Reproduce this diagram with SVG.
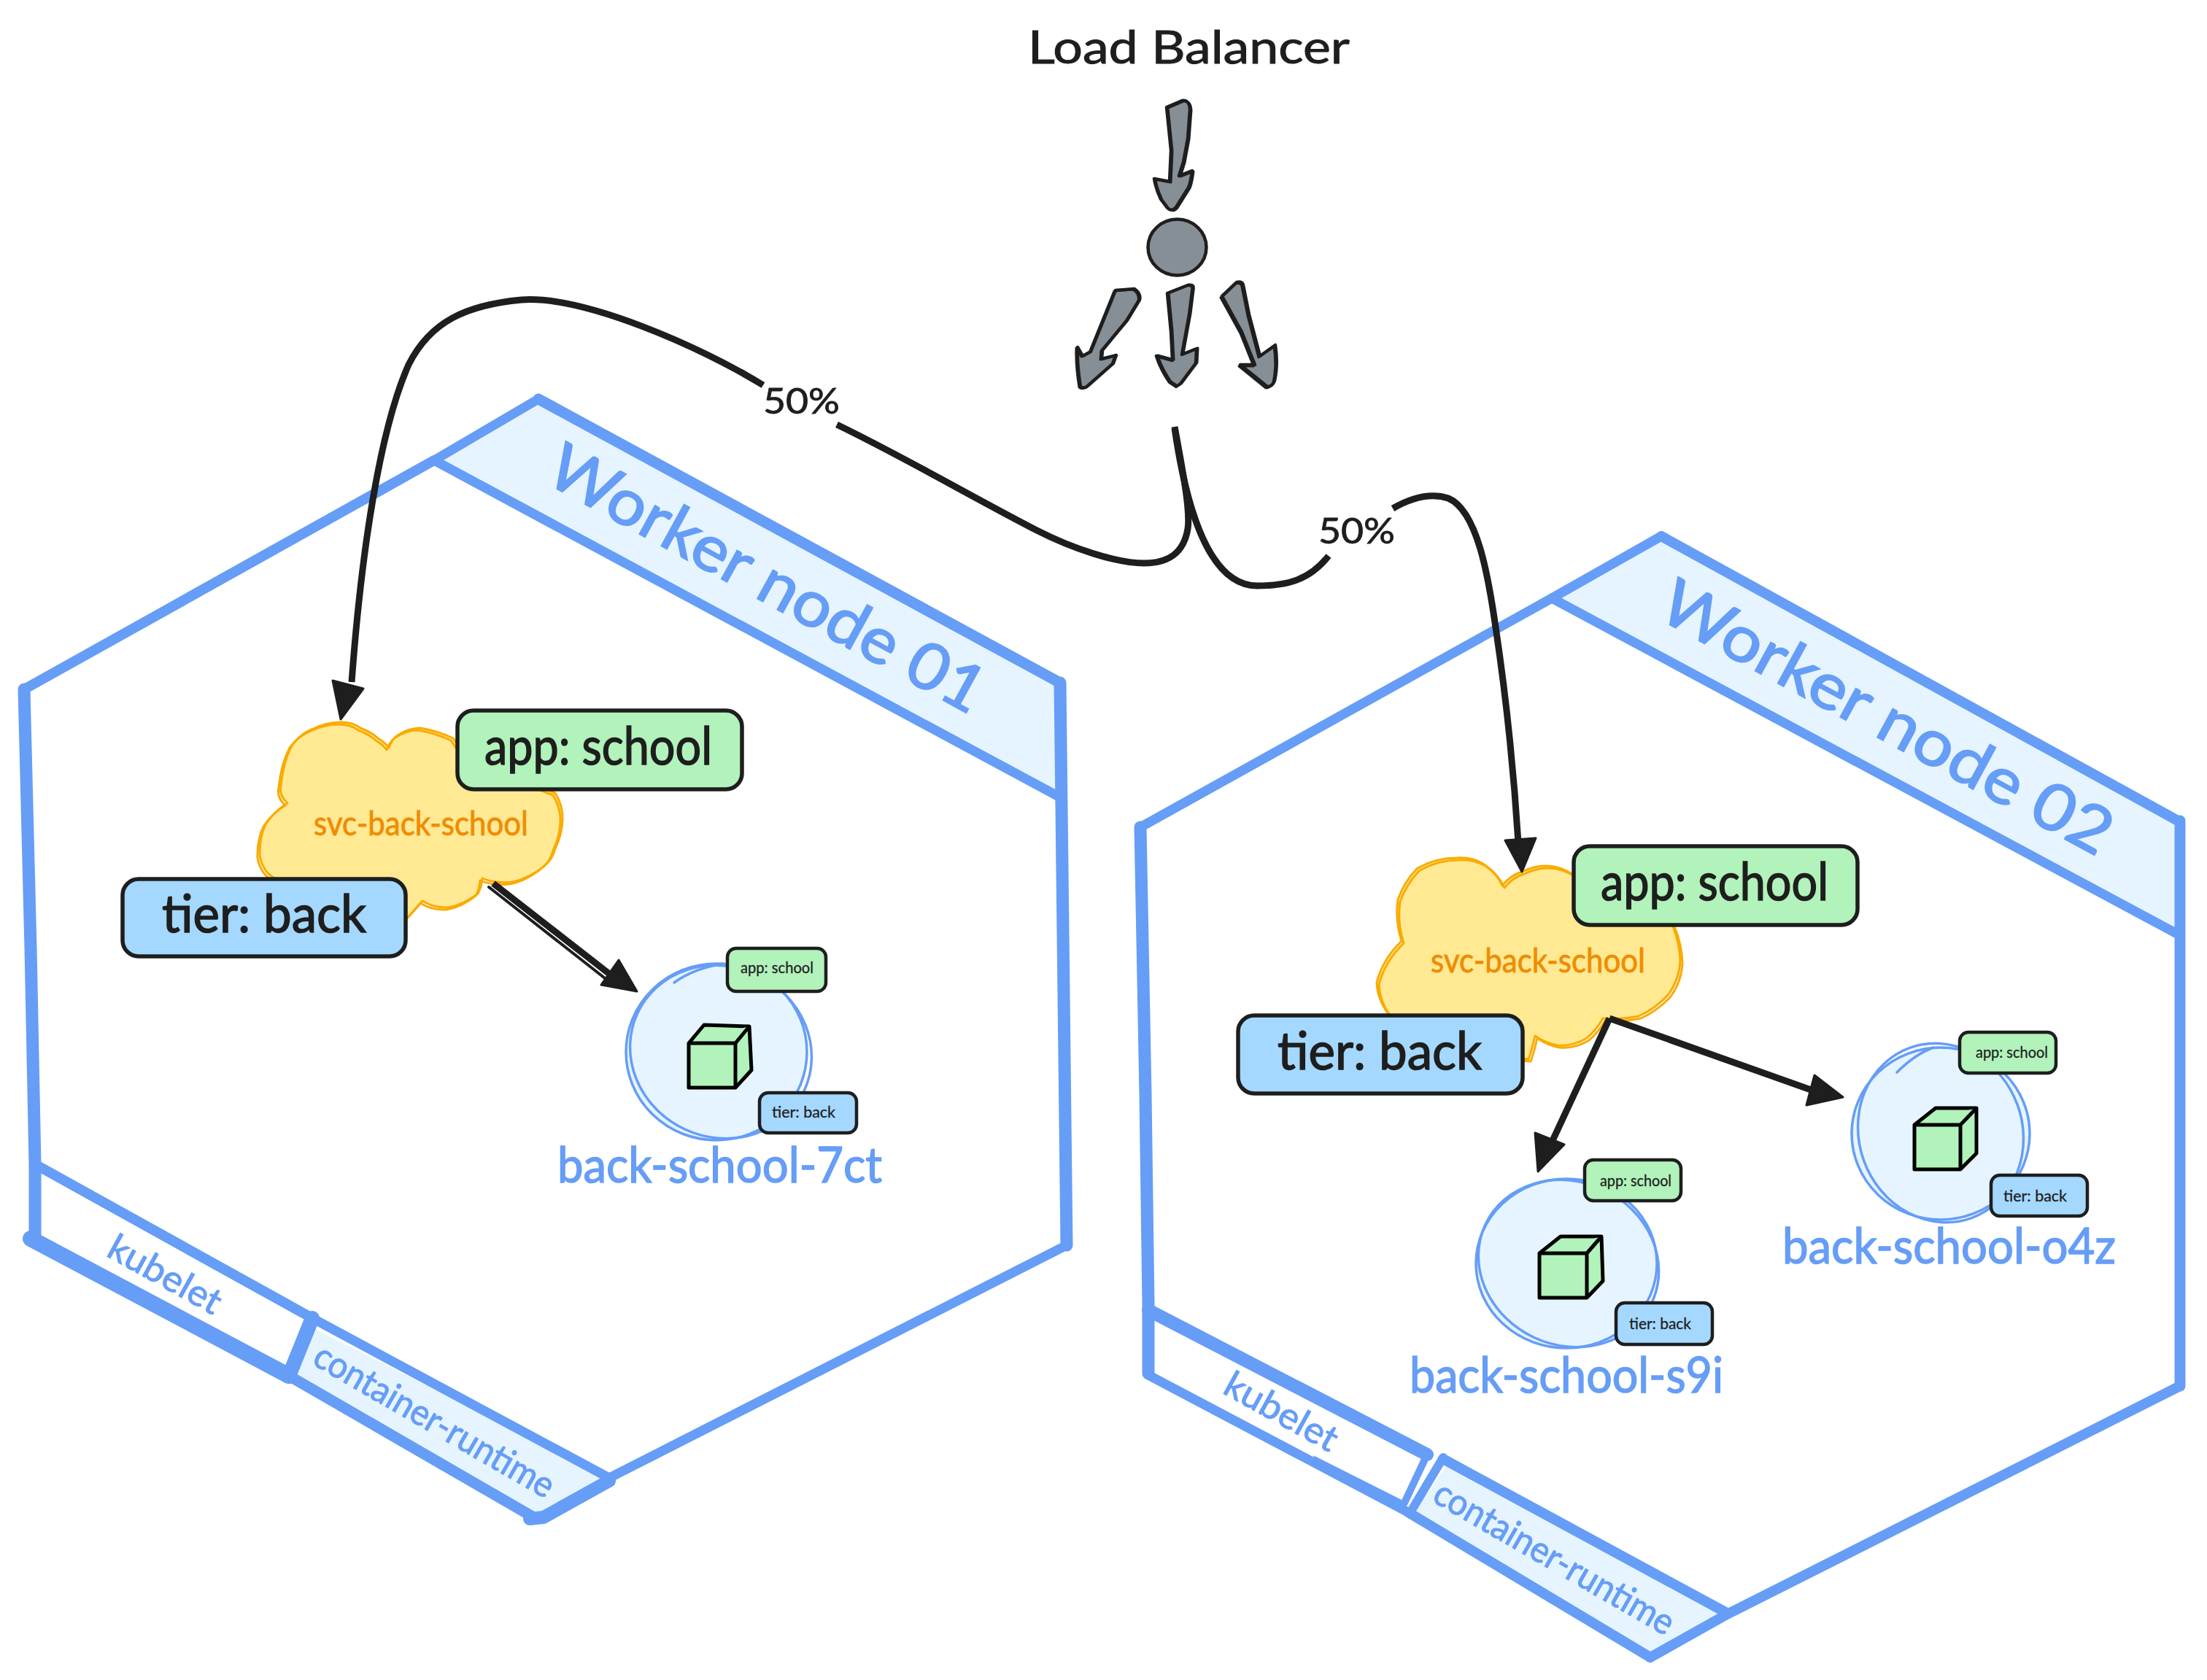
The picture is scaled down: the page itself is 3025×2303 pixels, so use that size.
<svg xmlns="http://www.w3.org/2000/svg" width="3025" height="2303" viewBox="0 0 3025 2303">
<style>
text{font-family:"Lato","Noto Sans",sans-serif;}
.hex{fill:none;stroke:#669df6;stroke-width:13;stroke-linejoin:round;stroke-linecap:round}
.hexb{fill:none;stroke:#669df6;stroke-width:20;stroke-linejoin:round;stroke-linecap:round}
.cloud{fill:#ffe993;stroke:none}
.cl{fill:none;stroke:#f9ab00;stroke-width:3;stroke-linejoin:round}
.lg{fill:#b2f2bb;stroke:#1e1e1e;stroke-width:5.5}
.lb{fill:#a5d8ff;stroke:#1e1e1e;stroke-width:5.5}
.sg{fill:#b2f2bb;stroke:#1e1e1e;stroke-width:4.5}
.sb{fill:#a5d8ff;stroke:#1e1e1e;stroke-width:4.5}
.tk{fill:#1e1e1e;stroke:#1e1e1e}
.big{font-size:72px;stroke-width:1.5}
.sm{font-size:22px;stroke-width:.3}
.pname{font-size:68px;fill:#669df6;stroke:#669df6;stroke-width:1.5}
.svc{font-size:46px;fill:#f08c00;stroke:#f08c00;stroke-width:.8}
.wn{font-size:88px;fill:#669df6;stroke:#669df6;stroke-width:2}
.side{font-size:50px;fill:#669df6;stroke:#669df6;stroke-width:1}
.pod{fill:#e5f4ff;stroke:none}
.pl{fill:none;stroke:#669df6;stroke-width:3.5;stroke-linecap:round}
.cube{fill:#b2f2bb;stroke:#000;stroke-width:5;stroke-linejoin:round}
.la{fill:#868e96;stroke:#1e1e1e;stroke-width:4.5;stroke-linejoin:round}
.lo{fill:none;stroke:#1e1e1e;stroke-width:3;stroke-linejoin:round}
.cn{fill:none;stroke:#1e1e1e;stroke-width:9;stroke-linecap:butt}
.cn2{fill:none;stroke:#1e1e1e;stroke-width:4;stroke-linecap:round}
.hd{fill:#1e1e1e;stroke:#1e1e1e;stroke-width:3;stroke-linejoin:round}
.pct{font-size:48px;fill:#1e1e1e;stroke:#1e1e1e;stroke-width:.8}
</style>
<defs>
<path id="cloud1" d="M467 990Q484 990 494 998Q508 1003 518 1012Q528 1018 533 1025Q538 1012 545 1008Q560 998 576 998Q600 1002 621 1012L640 1040L761 1087Q772 1105 771 1125Q770 1145 761 1163Q757 1178 748 1185Q735 1197 718 1204Q700 1212 682 1209Q670 1208 661 1204Q660 1216 655 1225Q636 1240 615 1244Q595 1245 579 1235Q568 1248 558 1259L420 1240L367 1197Q358 1186 356 1173Q355 1150 364 1130Q376 1112 394 1101Q382 1090 385 1077Q388 1045 400 1022Q412 1006 427 1000Q447 990 467 990Z"/>
<path id="cloud2" d="M1943 1190Q1968 1176 1996 1176Q2020 1174 2037 1187Q2052 1198 2059 1214Q2070 1200 2086 1195Q2105 1186 2121 1187Q2142 1188 2157 1200L2200 1240L2291 1265Q2302 1290 2303 1317Q2302 1342 2287 1363Q2270 1382 2246 1393Q2222 1398 2197 1396Q2188 1412 2175 1423Q2155 1435 2135 1433Q2118 1430 2104 1420Q2100 1438 2095 1452L1960 1440L1903 1390Q1888 1370 1887 1347Q1895 1315 1921 1290Q1912 1262 1916 1233Q1925 1208 1943 1190Z"/>
<path id="arrow-top" d="M1599 147L1620 138Q1630 136 1631 150L1628 190L1622 222L1616 241L1634 234Q1632 250 1629 257L1612 284Q1606 291 1600 285L1591 273Q1584 258 1582 245L1603 249L1605 206Z"/>
<path id="arrow-l" d="M1529 398L1555 396Q1564 402 1562 411L1545 439L1511 480L1510 492L1530 487L1526 498L1492 528Q1486 534 1481 530Q1476 500 1477 476L1484 488L1495 482Z"/>
<path id="arrow-m" d="M1600 402L1628 391Q1636 390 1634 399L1630 431L1620 486L1640 478L1639 498L1618 526L1612 530L1603 524Q1590 505 1585 488L1607 494L1605 455Z"/>
<path id="arrow-r" d="M1675 406L1695 387Q1703 385 1704 391L1712 431L1727 488L1748 473Q1752 500 1747 522Q1744 530 1737 530L1700 500L1720 500L1702 455Z"/>
</defs>

<g id="worker-node-01">
<polygon points="595,631 738,547 1453,932 1453,1093" fill="#e5f4ff"/>
<polygon points="432,1822 835,2026 737,2078 403,1885" fill="#e5f4ff"/>
<path class="hexb" style="stroke-width:14" d="M595 631L33 945"/>
<path class="hexb" style="stroke-width:17" d="M33 945L42 1300L48 1596L48 1696"/>
<path class="hex" d="M595 631L738 547"/>
<path class="hexb" style="stroke-width:15" d="M738 547L1453 936"/>
<path class="hex" d="M595 631L1453 1093"/>
<path class="hexb" style="stroke-width:17" d="M1453 936L1462 1707"/>
<path class="hex" d="M1462 1707L835 2026"/>
<path class="hexb" style="stroke-width:14" d="M48 1596L428 1807"/>
<path class="hexb" style="stroke-width:13" d="M428 1807L835 2026"/>
<path class="hexb" style="stroke-width:22" d="M42 1698L396 1886"/>
<path class="hexb" style="stroke-width:15" d="M396 1886L735 2082"/>
<path class="hexb" style="stroke-width:20" d="M428 1807L396 1886"/>
<path class="hexb" style="stroke-width:18" d="M726 2082L745 2080L835 2030"/>
<text class="wn" transform="translate(1037 820) rotate(28.7)" text-anchor="middle" textLength="668" lengthAdjust="spacingAndGlyphs">Worker node 01</text>
<text class="side" transform="translate(218 1762) rotate(29)" text-anchor="middle" textLength="170" lengthAdjust="spacingAndGlyphs">kubelet</text>
<text class="side" transform="translate(587 1962) rotate(30)" text-anchor="middle" textLength="372" lengthAdjust="spacingAndGlyphs">container-runtime</text>
</g>

<g id="worker-node-02">
<polygon points="2127,820 2277,735 2985,1122 2982,1279" fill="#e5f4ff"/>
<polygon points="1982,2011 2361,2210 2258,2268 1939,2071" fill="#e5f4ff"/>
<path class="hexb" style="stroke-width:13" d="M2127 820L1563 1134"/>
<path class="hexb" style="stroke-width:17" d="M1563 1134L1570 1500L1574 1789L1574 1883"/>
<path class="hex" d="M2127 820L2277 735"/>
<path class="hexb" style="stroke-width:14" d="M2277 735L2985 1125"/>
<path class="hex" d="M2127 820L2982 1279"/>
<path class="hexb" style="stroke-width:15" d="M2988 1125L2988 1900"/>
<path class="hexb" style="stroke-width:14" d="M2988 1900L2367 2213L2262 2272"/>
<path class="hexb" style="stroke-width:18" d="M1574 1796L1956 1994"/>
<path class="hexb" style="stroke-width:14" d="M1978 2000L2365 2210"/>
<path class="hexb" style="stroke-width:13" d="M1574 1885L1930 2073"/>
<polygon points="1800,1995 1925,2058 1935,2080 1810,2015" fill="#669df6"/>
<path class="hexb" style="stroke-width:14" d="M1930 2073L2262 2272"/>
<path class="hexb" style="stroke-width:10" d="M1956 1994L1925 2060"/>
<path class="hexb" style="stroke-width:12" d="M1978 1998L1935 2070"/>
<text class="wn" transform="translate(2572 1010) rotate(28.5)" text-anchor="middle" textLength="690" lengthAdjust="spacingAndGlyphs">Worker node 02</text>
<text class="side" transform="translate(1748 1950) rotate(29)" text-anchor="middle" textLength="170" lengthAdjust="spacingAndGlyphs">kubelet</text>
<text class="side" transform="translate(2122 2150) rotate(30)" text-anchor="middle" textLength="372" lengthAdjust="spacingAndGlyphs">container-runtime</text>
</g>

<g id="load-balancer">
<text class="tk" x="1409" y="87" font-size="62" stroke-width="1" textLength="441" lengthAdjust="spacingAndGlyphs">Load Balancer</text>
<use href="#arrow-top" class="la"/>
<use href="#arrow-top" class="lo" transform="translate(2 1)"/>
<ellipse class="la" cx="1613.5" cy="339" rx="40" ry="38.5"/>
<use href="#arrow-l" class="la"/>
<use href="#arrow-l" class="lo" transform="translate(-2 1)"/>
<use href="#arrow-m" class="la"/>
<use href="#arrow-m" class="lo" transform="translate(2 -1)"/>
<use href="#arrow-r" class="la"/>
<use href="#arrow-r" class="lo" transform="translate(-2 2)"/>
</g>

<g id="svc-1">
<use href="#cloud1" class="cloud"/>
<use href="#cloud1" class="cl"/>
<use href="#cloud1" class="cl" transform="translate(-3 3)"/>
<text class="svc" x="430" y="1145" textLength="294" lengthAdjust="spacingAndGlyphs">svc-back-school</text>
</g>
<g id="svc-1-app">
<rect class="lg" x="627" y="974" width="390" height="108" rx="22"/>
<text class="tk big" x="664" y="1048" textLength="312" lengthAdjust="spacingAndGlyphs">app: school</text>
</g>
<g id="svc-1-tier">
<rect class="lb" x="168" y="1205" width="388" height="106" rx="22"/>
<text class="tk big" x="222" y="1278" textLength="280" lengthAdjust="spacingAndGlyphs">tier: back</text>
</g>

<g id="pod-7ct">
<ellipse class="pod" cx="982" cy="1442" rx="124" ry="121"/>
<ellipse class="pl" cx="982" cy="1442" rx="124" ry="121"/>
<ellipse class="pl" cx="988" cy="1442" rx="126" ry="117" transform="rotate(25 988 1442)"/>
<path class="pl" d="M924 1347Q950 1328 991 1321"/>
<path class="cube" d="M944 1430L965 1405L1027 1407L1030 1467L1008 1491L944 1491Z"/>
<path class="cube" fill="none" d="M944 1430L1008 1430L1027 1407M1008 1430L1008 1491"/>
<rect class="sg" x="997" y="1300" width="135" height="59" rx="12"/>
<text class="tk sm" x="1015" y="1334" textLength="100" lengthAdjust="spacingAndGlyphs">app: school</text>
<rect class="sb" x="1041" y="1498" width="133" height="55" rx="12"/>
<text class="tk sm" x="1058" y="1532" textLength="87" lengthAdjust="spacingAndGlyphs">tier: back</text>
<text class="pname" x="764" y="1621" textLength="445" lengthAdjust="spacingAndGlyphs">back-school-7ct</text>
</g>

<g id="svc-2">
<use href="#cloud2" class="cloud"/>
<use href="#cloud2" class="cl"/>
<use href="#cloud2" class="cl" transform="translate(3 3)"/>
<text class="svc" x="1961" y="1333" textLength="294" lengthAdjust="spacingAndGlyphs">svc-back-school</text>
</g>
<g id="svc-2-app">
<rect class="lg" x="2157" y="1160" width="389" height="108" rx="22"/>
<text class="tk big" x="2194" y="1234" textLength="312" lengthAdjust="spacingAndGlyphs">app: school</text>
</g>
<g id="svc-2-tier">
<rect class="lb" x="1697" y="1392" width="390" height="107" rx="22"/>
<text class="tk big" x="1751" y="1466" textLength="280" lengthAdjust="spacingAndGlyphs">tier: back</text>
</g>

<g id="pod-s9i">
<ellipse class="pod" cx="2147" cy="1732" rx="124" ry="116"/>
<ellipse class="pl" cx="2147" cy="1732" rx="124" ry="116"/>
<ellipse class="pl" cx="2150" cy="1732" rx="126" ry="112" transform="rotate(25 2150 1732)"/>
<path class="cube" d="M2110 1718L2139 1695L2195 1695L2197 1756L2175 1779L2110 1779Z"/>
<path class="cube" fill="none" d="M2110 1718L2175 1718L2195 1695M2175 1718L2175 1779"/>
<rect class="sg" x="2172" y="1590" width="132" height="56" rx="12"/>
<text class="tk sm" x="2193" y="1626" textLength="98" lengthAdjust="spacingAndGlyphs">app: school</text>
<rect class="sb" x="2215" y="1786" width="132" height="57" rx="12"/>
<text class="tk sm" x="2233" y="1822" textLength="85" lengthAdjust="spacingAndGlyphs">tier: back</text>
<text class="pname" x="1932" y="1909" textLength="430" lengthAdjust="spacingAndGlyphs">back-school-s9i</text>
</g>

<g id="pod-o4z">
<ellipse class="pod" cx="2660" cy="1554" rx="122" ry="118"/>
<ellipse class="pl" cx="2660" cy="1554" rx="122" ry="118"/>
<ellipse class="pl" cx="2660" cy="1553" rx="124" ry="112" transform="rotate(70 2660 1553)"/>
<path class="pl" d="M2600 1470Q2625 1445 2650 1436"/>
<path class="cube" d="M2624 1542L2653 1519L2709 1519L2709 1581L2687 1603L2624 1603Z"/>
<path class="cube" fill="none" d="M2624 1542L2687 1542L2709 1519M2687 1542L2687 1603"/>
<rect class="sg" x="2686" y="1415" width="132" height="56" rx="12"/>
<text class="tk sm" x="2708" y="1450" textLength="99" lengthAdjust="spacingAndGlyphs">app: school</text>
<rect class="sb" x="2729" y="1611" width="132" height="56" rx="12"/>
<text class="tk sm" x="2746" y="1647" textLength="87" lengthAdjust="spacingAndGlyphs">tier: back</text>
<text class="pname" x="2443" y="1732" textLength="457" lengthAdjust="spacingAndGlyphs">back-school-o4z</text>
</g>

<g id="connectors">
<path class="cn" d="M1610 585C1620 640 1632 700 1628 725C1622 760 1600 772 1568 772C1530 772 1470 752 1421 727C1330 680 1240 627 1147 582"/>
<path class="cn" d="M1046 528C960 475 800 405 715 411C640 418 590 440 560 500C520 590 495 760 482 935"/>
<path class="hd" d="M467 986L456 933L498 944Z"/>
<text class="pct" x="1046" y="567" textLength="105" lengthAdjust="spacingAndGlyphs">50%</text>
<path class="cn" d="M1610 587C1622 670 1650 803 1723 803C1765 803 1795 795 1821 762"/>
<path class="cn" d="M1909 697C1935 682 1960 675 1985 683C2025 700 2040 790 2050 860C2065 960 2075 1060 2081 1155"/>
<path class="hd" d="M2086 1195L2063 1152L2105 1149Z"/>
<text class="pct" x="1807" y="745" textLength="105" lengthAdjust="spacingAndGlyphs">50%</text>
<path class="cn" d="M676 1211L848 1345"/>
<path class="cn2" d="M670 1216L838 1348"/>
<path class="hd" d="M873 1359L848 1316L824 1350Z"/>
<path class="cn" d="M2206 1396L2125 1570"/>
<path class="hd" d="M2108 1606L2104 1553L2144 1569Z"/>
<path class="cn" d="M2206 1396L2485 1495"/>
<path class="hd" d="M2526 1504L2487 1474L2476 1515Z"/>
</g>
</svg>
